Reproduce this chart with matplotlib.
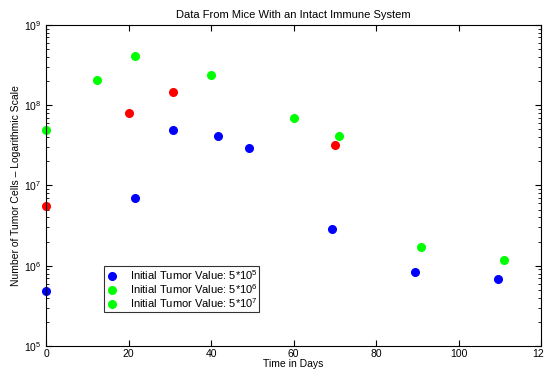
import numpy as np
import matplotlib
matplotlib.use("Agg")
import matplotlib.pyplot as plt
from matplotlib.lines import Line2D

plt.rcParams['font.family'] = ['Liberation Sans', 'DejaVu Sans']
plt.rcParams['mathtext.fontset'] = 'custom'
plt.rcParams['mathtext.rm'] = 'Liberation Sans'

# Data (days, tumor cells)
blue_days = [0, 21.5, 30.8, 41.6, 49.3, 69.3, 89.5, 109.6]
blue_cells = [4.9e5, 6.9e6, 4.9e7, 4.1e7, 2.9e7, 2.9e6, 8.4e5, 6.9e5]

red_days = [0, 20.1, 30.8, 70.0]
red_cells = [5.6e6, 8.1e7, 1.45e8, 3.2e7]

green_days = [0, 12.4, 21.6, 40.0, 60.1, 71.0, 90.9, 111.0]
green_cells = [4.9e7, 2.05e8, 4.1e8, 2.4e8, 7.0e7, 4.1e7, 1.7e6, 1.18e6]

legend_labels = ['Initial Tumor Value: 5*10$^5$',
                 'Initial Tumor Value: 5*10$^6$',
                 'Initial Tumor Value: 5*10$^7$']
legend_colors = ['#0000ff', '#00ff00', '#00ff00']

fig = plt.figure(figsize=(5.44, 3.69), dpi=100)
ax = fig.add_axes([0.0846, 0.0623, 0.91, 0.87])

ax.plot(blue_days, blue_cells, 'o', color='#0000ff', markersize=5.5, clip_on=False)
ax.plot(red_days, red_cells, 'o', color='#ff0000', markersize=5.5, clip_on=False)
ax.plot(green_days, green_cells, 'o', color='#00ff00', markersize=5.5, clip_on=False)

ax.set_yscale('log')
ax.set_xlim(0, 120)
ax.set_ylim(1e5, 1e9)
ax.set_xticks([0, 20, 40, 60, 80, 100, 120])

ax.tick_params(which='both', direction='in', top=True, right=True, labelsize=7.5)
ax.tick_params(axis='x', pad=2)
ax.tick_params(which='major', length=4, width=0.8)
ax.tick_params(which='minor', length=2, width=0.6)
ax.tick_params(axis='x', which='minor', bottom=False, top=False)
for sp in ax.spines.values():
    sp.set_linewidth(0.8)

ax.set_title('Data From Mice With an Intact Immune System', fontsize=8, pad=5)
ax.set_xlabel('Time in Days', fontsize=7.5, labelpad=0)
ax.set_ylabel('Number of Tumor Cells \u2013 Logarithmic Scale', fontsize=7.5, labelpad=2)

handles = [Line2D([], [], linestyle='none', marker='o', color=c, markersize=5.5)
           for c in legend_colors]
leg = ax.legend(handles, legend_labels, loc='lower left',
                bbox_to_anchor=(0.11, 0.097), fontsize=8, frameon=True,
                fancybox=False, edgecolor='black', handlelength=1.2,
                handletextpad=1.0, borderpad=0.15, labelspacing=0.02,
                borderaxespad=0.3)
leg.get_frame().set_linewidth(0.8)

fig.savefig('out.png', dpi=100)
